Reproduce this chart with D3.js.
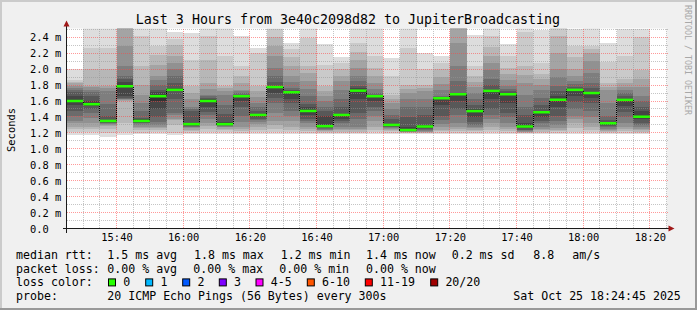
<!DOCTYPE html>
<html>
<head>
<meta charset="utf-8">
<script src="https://cdn.jsdelivr.net/npm/d3@7"></script>
<style>
  body { margin: 0; background: #f0f0f0; }
  svg { display: block; font-family: "DejaVu Sans Mono", monospace; }
</style>
</head>
<body>
<svg id="chart" width="697" height="310"></svg>
<script>
// time window shown on the graph
const windowStart = "15:25";
const windowEnd = "18:25";
const yMax = 2.51;

// start of each 5 minute probe slot
const slotStarts = ["15:25", "15:30", "15:35", "15:40", "15:45", "15:50", "15:55",
  "16:00", "16:05", "16:10", "16:15", "16:20", "16:25", "16:30", "16:35", "16:40",
  "16:45", "16:50", "16:55", "17:00", "17:05", "17:10", "17:15", "17:20", "17:25",
  "17:30", "17:35", "17:40", "17:45", "17:50", "17:55", "18:00", "18:05", "18:10", "18:15"];

// 20 ping rtts (ms) per slot, sorted
const pings = [
  [1.17, 1.21, 1.25, 1.28, 1.32, 1.35, 1.41, 1.48, 1.55, 1.59, 1.61, 1.66, 1.71, 1.74, 1.76, 1.79, 1.82, 1.84, 1.86, 2.00],
  [1.17, 1.21, 1.25, 1.28, 1.33, 1.39, 1.45, 1.50, 1.54, 1.555, 1.565, 1.60, 1.66, 1.71, 1.74, 1.77, 1.79, 2.00, 2.27, 2.55],
  [1.15, 1.20, 1.25, 1.29, 1.30, 1.31, 1.32, 1.33, 1.34, 1.345, 1.355, 1.36, 1.41, 1.56, 1.72, 1.76, 1.79, 2.00, 2.27, 2.55],
  [1.17, 1.21, 1.33, 1.60, 1.61, 1.62, 1.63, 1.64, 1.66, 1.78, 1.80, 1.84, 1.88, 1.91, 2.04, 2.29, 2.60, 2.70, 2.80, 2.90],
  [1.18, 1.20, 1.24, 1.26, 1.28, 1.30, 1.32, 1.33, 1.34, 1.345, 1.355, 1.37, 1.39, 1.48, 1.57, 1.68, 1.80, 2.04, 2.41, 2.55],
  [1.19, 1.21, 1.24, 1.26, 1.28, 1.30, 1.34, 1.40, 1.50, 1.60, 1.68, 1.71, 1.74, 1.80, 1.86, 1.91, 2.05, 2.18, 2.29, 2.55],
  [1.17, 1.20, 1.30, 1.36, 1.38, 1.42, 1.45, 1.62, 1.73, 1.74, 1.745, 1.76, 1.82, 1.91, 2.00, 2.08, 2.16, 2.30, 2.38, 2.46],
  [1.19, 1.20, 1.22, 1.24, 1.26, 1.27, 1.28, 1.29, 1.30, 1.305, 1.315, 1.33, 1.48, 1.50, 1.53, 1.62, 1.70, 1.79, 2.12, 2.45],
  [1.19, 1.21, 1.25, 1.29, 1.33, 1.38, 1.43, 1.46, 1.52, 1.59, 1.61, 1.62, 1.64, 1.66, 1.68, 1.75, 1.83, 2.12, 2.41, 2.55],
  [1.19, 1.21, 1.23, 1.25, 1.27, 1.28, 1.29, 1.295, 1.30, 1.305, 1.315, 1.34, 1.44, 1.55, 1.67, 1.72, 1.76, 1.79, 2.16, 2.55],
  [1.19, 1.20, 1.22, 1.25, 1.28, 1.34, 1.41, 1.53, 1.60, 1.655, 1.665, 1.67, 1.68, 1.70, 1.72, 1.74, 1.82, 1.91, 2.04, 2.41],
  [1.19, 1.21, 1.24, 1.28, 1.31, 1.34, 1.36, 1.38, 1.40, 1.42, 1.43, 1.44, 1.47, 1.52, 1.58, 1.65, 1.72, 1.79, 2.20, 2.27],
  [1.19, 1.21, 1.25, 1.30, 1.35, 1.45, 1.58, 1.64, 1.70, 1.765, 1.775, 1.78, 1.84, 1.91, 2.02, 2.16, 2.29, 2.40, 2.50, 2.55],
  [1.19, 1.21, 1.24, 1.28, 1.35, 1.41, 1.48, 1.57, 1.62, 1.71, 1.72, 1.72, 1.74, 1.76, 1.84, 1.91, 2.04, 2.15, 2.25, 2.33],
  [1.19, 1.20, 1.22, 1.25, 1.28, 1.32, 1.35, 1.38, 1.42, 1.47, 1.48, 1.52, 1.56, 1.66, 1.75, 1.85, 1.95, 2.04, 2.39, 2.55],
  [1.19, 1.20, 1.21, 1.22, 1.23, 1.24, 1.25, 1.26, 1.27, 1.28, 1.29, 1.41, 1.47, 1.53, 1.60, 1.66, 1.72, 1.79, 2.05, 2.31],
  [1.19, 1.20, 1.21, 1.23, 1.25, 1.28, 1.32, 1.35, 1.38, 1.42, 1.43, 1.44, 1.53, 1.63, 1.74, 1.85, 1.92, 2.00, 2.08, 2.15],
  [1.19, 1.20, 1.21, 1.23, 1.25, 1.28, 1.38, 1.45, 1.62, 1.72, 1.74, 1.76, 1.79, 1.85, 1.91, 2.02, 2.12, 2.22, 2.33, 2.55],
  [1.19, 1.21, 1.24, 1.28, 1.35, 1.41, 1.47, 1.53, 1.60, 1.655, 1.665, 1.67, 1.68, 1.70, 1.75, 1.82, 1.92, 2.02, 2.16, 2.55],
  [1.19, 1.20, 1.22, 1.24, 1.25, 1.26, 1.27, 1.28, 1.29, 1.295, 1.305, 1.31, 1.37, 1.42, 1.50, 1.57, 1.62, 1.67, 1.91, 2.14],
  [1.19, 1.195, 1.20, 1.205, 1.21, 1.215, 1.22, 1.225, 1.228, 1.232, 1.24, 1.28, 1.40, 1.53, 1.62, 1.70, 1.75, 1.80, 2.26, 2.55],
  [1.19, 1.195, 1.20, 1.21, 1.215, 1.225, 1.235, 1.245, 1.26, 1.275, 1.285, 1.30, 1.42, 1.53, 1.62, 1.72, 1.76, 1.80, 2.00, 2.20],
  [1.19, 1.20, 1.22, 1.24, 1.27, 1.31, 1.36, 1.41, 1.55, 1.63, 1.64, 1.645, 1.65, 1.66, 1.74, 1.81, 1.90, 2.00, 2.08, 2.17],
  [1.19, 1.20, 1.22, 1.25, 1.28, 1.33, 1.42, 1.50, 1.60, 1.68, 1.69, 1.695, 1.70, 1.85, 2.04, 2.33, 2.60, 2.70, 2.80, 2.90],
  [1.19, 1.20, 1.22, 1.24, 1.26, 1.28, 1.30, 1.34, 1.40, 1.47, 1.48, 1.50, 1.55, 1.62, 1.70, 1.78, 1.84, 1.91, 2.04, 2.43],
  [1.19, 1.21, 1.24, 1.28, 1.32, 1.38, 1.43, 1.50, 1.62, 1.72, 1.735, 1.74, 1.80, 1.88, 1.99, 2.08, 2.16, 2.28, 2.41, 2.55],
  [1.19, 1.20, 1.22, 1.25, 1.28, 1.33, 1.40, 1.45, 1.58, 1.68, 1.69, 1.70, 1.72, 1.75, 1.79, 1.86, 1.94, 2.02, 2.16, 2.31],
  [1.19, 1.195, 1.20, 1.21, 1.215, 1.22, 1.23, 1.24, 1.26, 1.275, 1.285, 1.33, 1.42, 1.52, 1.67, 1.82, 1.93, 2.04, 2.47, 2.55],
  [1.19, 1.20, 1.21, 1.23, 1.25, 1.28, 1.32, 1.35, 1.40, 1.455, 1.465, 1.48, 1.55, 1.64, 1.74, 1.80, 1.87, 1.94, 2.08, 2.49],
  [1.19, 1.20, 1.22, 1.24, 1.26, 1.30, 1.35, 1.41, 1.52, 1.61, 1.62, 1.66, 1.72, 1.79, 1.90, 2.00, 2.20, 2.41, 2.55, 2.70],
  [1.19, 1.21, 1.26, 1.33, 1.37, 1.41, 1.50, 1.59, 1.66, 1.73, 1.74, 1.75, 1.78, 1.81, 1.85, 1.92, 2.00, 2.15, 2.29, 2.50],
  [1.19, 1.21, 1.24, 1.28, 1.33, 1.40, 1.48, 1.58, 1.64, 1.695, 1.705, 1.71, 1.76, 1.82, 1.95, 2.10, 2.20, 2.25, 2.29, 2.55],
  [1.19, 1.20, 1.21, 1.22, 1.23, 1.25, 1.27, 1.29, 1.30, 1.315, 1.325, 1.33, 1.36, 1.41, 1.58, 1.74, 1.78, 1.82, 2.09, 2.33],
  [1.19, 1.20, 1.22, 1.25, 1.28, 1.33, 1.40, 1.46, 1.54, 1.61, 1.62, 1.63, 1.66, 1.70, 1.74, 1.78, 1.82, 1.87, 2.16, 2.50],
  [1.19, 1.20, 1.21, 1.23, 1.25, 1.27, 1.30, 1.33, 1.37, 1.395, 1.405, 1.47, 1.53, 1.60, 1.66, 1.77, 1.88, 1.99, 2.40, 2.51]
];

// median rtt (ms) per slot, green line
const medians = [1.60, 1.56, 1.35, 1.785, 1.35, 1.66, 1.74, 1.31, 1.60, 1.31, 1.66, 1.425,
  1.775, 1.71, 1.475, 1.284, 1.425, 1.73, 1.66, 1.30, 1.236, 1.28, 1.635, 1.685, 1.473,
  1.727, 1.685, 1.28, 1.459, 1.616, 1.74, 1.70, 1.321, 1.614, 1.403];

// axis ticks
const yTicks = [0, 0.2, 0.4, 0.6, 0.8, 1.0, 1.2, 1.4, 1.6, 1.8, 2.0, 2.2, 2.4];
const xTicks = ["15:40", "16:00", "16:20", "16:40", "17:00", "17:20", "17:40", "18:00", "18:20"];

// legend
const titleText = "Last 3 Hours from 3e40c2098d82 to JupiterBroadcasting";
const rttRow = ["median rtt:", "1.5 ms avg", "1.8 ms max", "1.2 ms min", "1.4 ms now", "0.2 ms sd", "8.8", "am/s"];
const lossRow = ["packet loss:", "0.00 % avg", "0.00 % max", "0.00 % min", "0.00 % now"];
const lossLabels = ["0", "1", "2", "3", "4-5", "6-10", "11-19", "20/20"];
const lossColors = ["#26ff00", "#00b8ff", "#0059ff", "#7e00ff", "#ff00ff", "#ff5500", "#ff0000", "#a00000"];
const probeRow = ["probe:", "20 ICMP Echo Pings (56 Bytes) every 300s", "Sat Oct 25 18:24:45 2025"];

// layout
const width = 697, height = 310;
const plotL = 66.5, plotR = 666.5, plotT = 28.5, plotB = 228.5;
const rttX = [16, 107.3, 194, 280.7, 366, 451.7, 533.3, 572.3];
const lossX = [16, 107.3, 193.3, 279.3, 366];
const boxX = [108.5, 145.7, 182.7, 219.3, 256, 307.3, 365.3, 430.7];
const probeX = [16, 107.3, 513.3];
const rowY = [259, 272.7, 286.4, 300.1];

const parseT = d3.timeParse("%H:%M");
const svg = d3.select("#chart");

const x = d3.scaleTime()
  .domain([parseT(windowStart), parseT(windowEnd)])
  .range([plotL, plotR]);
const y = d3.scaleLinear()
  .domain([0, yMax])
  .range([plotB, plotT]);

// background + 3d frame
svg.append("rect").attr("width", width).attr("height", height).attr("fill", "#f0f0f0");
svg.append("rect").attr("width", width).attr("height", 2).attr("fill", "#cbcbcb");
svg.append("rect").attr("width", 2).attr("height", height).attr("fill", "#cbcbcb");
svg.append("rect").attr("y", height - 2).attr("width", width).attr("height", 2).attr("fill", "#999");
svg.append("rect").attr("x", width - 2).attr("width", 2).attr("height", height).attr("fill", "#999");

// canvas
svg.append("rect")
  .attr("x", plotL).attr("y", plotT)
  .attr("width", plotR - plotL).attr("height", plotB - plotT)
  .attr("fill", "#fff");

svg.append("clipPath").attr("id", "plot-clip")
  .append("rect")
  .attr("x", plotL).attr("y", plotT)
  .attr("width", plotR - plotL).attr("height", plotB - plotT);

// smoke: nested bands, outer pair lightest, inner pair darkest
const shade = k => {
  const c = Math.floor(190 / 10 * (10 - k)) + 50;
  return d3.rgb(c, c, c).formatHex();
};
const smoke = svg.append("g").attr("clip-path", "url(#plot-clip)").attr("shape-rendering", "crispEdges");

pings.forEach((p, i) => {
  const s = p.slice().sort(d3.ascending);
  const t0 = parseT(slotStarts[i]);
  const x0 = x(t0), x1 = x(d3.timeMinute.offset(t0, 5));
  for (let k = 1; k <= s.length / 2; k++) {
    smoke.append("rect")
      .attr("x", x0)
      .attr("width", x1 - x0)
      .attr("y", y(s[s.length - k]))
      .attr("height", y(s[k - 1]) - y(s[s.length - k]))
      .attr("fill", shade(k));
  }
});

// grid
const grid = svg.append("g").attr("shape-rendering", "crispEdges").attr("fill", "none");
const minorCol = "rgba(150,150,150,0.55)";
const majorCol = "rgba(255,70,70,0.55)";
const px = v => Math.floor(v) + 0.5;

d3.range(0.1, yMax, 0.2).forEach(v => {
  grid.append("line")
    .attr("x1", plotL).attr("x2", plotR + 1)
    .attr("y1", px(y(v))).attr("y2", px(y(v)))
    .attr("stroke", minorCol).attr("stroke-dasharray", "1,1");
});
yTicks.filter(v => v > 0).forEach(v => {
  grid.append("line")
    .attr("x1", plotL).attr("x2", plotR + 1)
    .attr("y1", px(y(v))).attr("y2", px(y(v)))
    .attr("stroke", majorCol).attr("stroke-dasharray", "1,1");
});

const majorTimes = xTicks.map(parseT);
d3.timeMinute.every(5).range(d3.timeMinute.offset(parseT(windowStart), 5), d3.timeMinute.offset(parseT(windowEnd), 1))
  .filter(t => !majorTimes.some(m => +m === +t))
  .forEach(t => {
    grid.append("line")
      .attr("x1", px(x(t))).attr("x2", px(x(t)))
      .attr("y1", plotT).attr("y2", plotB)
      .attr("stroke", minorCol).attr("stroke-dasharray", "1,1");
  });
majorTimes.forEach(t => {
  grid.append("line")
    .attr("x1", px(x(t))).attr("x2", px(x(t)))
    .attr("y1", plotT).attr("y2", plotB)
    .attr("stroke", majorCol).attr("stroke-dasharray", "1,1");
});

// median: dotted step line + green bars
const stepPts = medians.map((m, i) => [x(parseT(slotStarts[i])), y(m)]);
stepPts.push([x(d3.timeMinute.offset(parseT(slotStarts[slotStarts.length - 1]), 5)), y(medians[medians.length - 1])]);

svg.append("path")
  .attr("d", d3.line().curve(d3.curveStepAfter)(stepPts))
  .attr("fill", "none")
  .attr("stroke", "#000")
  .attr("stroke-width", 1)
  .attr("stroke-dasharray", "1,1")
  .attr("shape-rendering", "crispEdges");

svg.append("g").selectAll("rect")
  .data(medians)
  .join("rect")
  .attr("x", (d, i) => x(parseT(slotStarts[i])))
  .attr("width", (d, i) => {
    const t0 = parseT(slotStarts[i]);
    return x(d3.timeMinute.offset(t0, 5)) - x(t0);
  })
  .attr("y", d => y(d) - 1.25)
  .attr("height", 2.5)
  .attr("fill", lossColors[0]);

// axes
const yAxis = d3.axisLeft(y)
  .tickValues(yTicks)
  .tickSize(0)
  .tickFormat(d => d === 0 ? "0.0" : d3.format(".1f")(d) + " m");
const yg = svg.append("g").attr("transform", `translate(${plotL},0)`).call(yAxis);
yg.select(".domain").remove();
yg.selectAll("text")
  .attr("x", 30 - plotL)
  .attr("dy", "0.35em")
  .attr("text-anchor", "start")
  .attr("fill", "#000")
  .style("font-family", "DejaVu Sans Mono")
  .style("font-size", "10.4px");

const xAxis = d3.axisBottom(x)
  .tickValues(majorTimes)
  .tickSize(0)
  .tickFormat(d3.timeFormat("%H:%M"));
const xg = svg.append("g").attr("transform", `translate(0,${plotB})`).call(xAxis);
xg.select(".domain").remove();
xg.selectAll("text")
  .attr("y", 12.5)
  .attr("dy", null)
  .attr("fill", "#000")
  .style("font-family", "DejaVu Sans Mono")
  .style("font-size", "10.4px");

// axis lines and arrows
svg.append("line")
  .attr("x1", plotL - 4).attr("x2", plotR + 4)
  .attr("y1", plotB).attr("y2", plotB)
  .attr("stroke", "#1a1a1a").attr("shape-rendering", "crispEdges");
svg.append("line")
  .attr("x1", plotL).attr("x2", plotL)
  .attr("y1", plotB + 4).attr("y2", plotT - 3)
  .attr("stroke", "#1a1a1a").attr("shape-rendering", "crispEdges");
svg.append("path")
  .attr("d", `M${plotR + 2},${plotB - 3}L${plotR + 8},${plotB}L${plotR + 2},${plotB + 3}Z`)
  .attr("fill", "#a01818");
svg.append("path")
  .attr("d", `M${plotL - 3},${plotT - 2}L${plotL},${plotT - 8}L${plotL + 3},${plotT - 2}Z`)
  .attr("fill", "#a01818");

// title
svg.append("text")
  .attr("x", 348).attr("y", 23.5)
  .attr("text-anchor", "middle")
  .style("font-size", "13.3px")
  .attr("fill", "#000")
  .text(titleText);

// y label
svg.append("text")
  .attr("transform", "translate(15,130) rotate(-90)")
  .attr("text-anchor", "middle")
  .style("font-size", "10.4px")
  .attr("fill", "#000")
  .text("Seconds");

// watermark
svg.append("text")
  .attr("transform", "translate(685,5) rotate(90)")
  .style("font-size", "8.3px")
  .attr("fill", "#a8a8a8")
  .text("RRDTOOL / TOBI OETIKER");

// legend
const legend = svg.append("g").style("font-size", "11.6px").attr("fill", "#000");
rttRow.forEach((t, i) => legend.append("text").attr("x", rttX[i]).attr("y", rowY[0]).text(t));
lossRow.forEach((t, i) => legend.append("text").attr("x", lossX[i]).attr("y", rowY[1]).text(t));
legend.append("text").attr("x", 16).attr("y", rowY[2]).text("loss color:");
lossLabels.forEach((t, i) => {
  legend.append("rect")
    .attr("x", boxX[i]).attr("y", rowY[2] - 7.5)
    .attr("width", 7).attr("height", 7)
    .attr("fill", lossColors[i])
    .attr("stroke", "#000").attr("stroke-width", 1);
  legend.append("text").attr("x", boxX[i] + 14.7).attr("y", rowY[2]).text(t);
});
probeRow.forEach((t, i) => legend.append("text").attr("x", probeX[i]).attr("y", rowY[3]).text(t));
</script>
</body>
</html>
